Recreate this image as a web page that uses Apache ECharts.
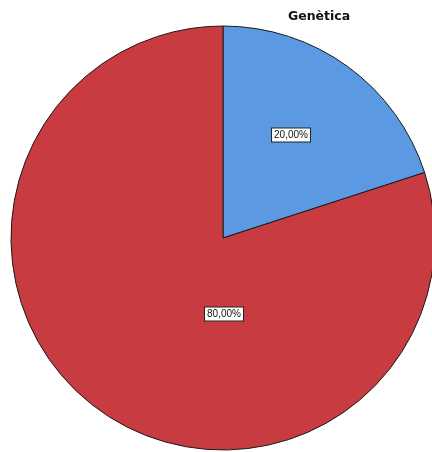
<!DOCTYPE html>
<html>
<head>
<meta charset="utf-8">
<script src="https://cdn.jsdelivr.net/npm/echarts@6/dist/echarts.min.js"></script>
<style>
  html, body { margin: 0; padding: 0; background: #ffffff; }
  #chart { width: 432px; height: 452px; }
</style>
</head>
<body>
<div id="chart"></div>
<script>
// Share of answers for the "Genètica" question
const chartTitle = 'Genètica';
const categories = ['Sí', 'No'];
const percentages = [20, 80];
const sliceColors = ['#5b99e3', '#c83c41'];

// Where each percentage box sits, relative to the pie centre (px)
const labelOffsets = [[68, -103], [1, 76]];

const center = [223, 238];
const radius = 212;

const chart = echarts.init(document.getElementById('chart'), null, { renderer: 'canvas' });

function formatPct(v) {
  return v.toFixed(2).replace('.', ',') + '%';
}

chart.setOption({
  animation: false,
  title: {
    text: chartTitle,
    left: 314,
    top: 5,
    textAlign: 'center',
    textStyle: {
      fontFamily: 'DejaVu Sans',
      fontWeight: 'bold',
      fontSize: 12.5,
      color: '#111111'
    }
  },
  series: [{
    type: 'pie',
    center: center,
    radius: [0, radius],
    startAngle: 90,
    clockwise: true,
    silent: true,
    data: categories.map((name, i) => ({
      name: name,
      value: percentages[i],
      itemStyle: { color: sliceColors[i] }
    })),
    itemStyle: {
      borderColor: '#1a1a1a',
      borderWidth: 1
    },
    label: {
      show: true,
      position: 'inside',
      formatter: p => formatPct(p.value),
      fontFamily: 'Liberation Sans',
      fontSize: 10,
      color: '#111111',
      backgroundColor: '#ffffff',
      borderColor: '#222222',
      borderWidth: 1,
      padding: [2, 2, 1, 2]
    },
    labelLine: { show: false },
    labelLayout: function (params) {
      const off = labelOffsets[params.dataIndex];
      return {
        x: center[0] + off[0],
        y: center[1] + off[1],
        align: 'center',
        verticalAlign: 'middle'
      };
    }
  }]
});
</script>
</body>
</html>
